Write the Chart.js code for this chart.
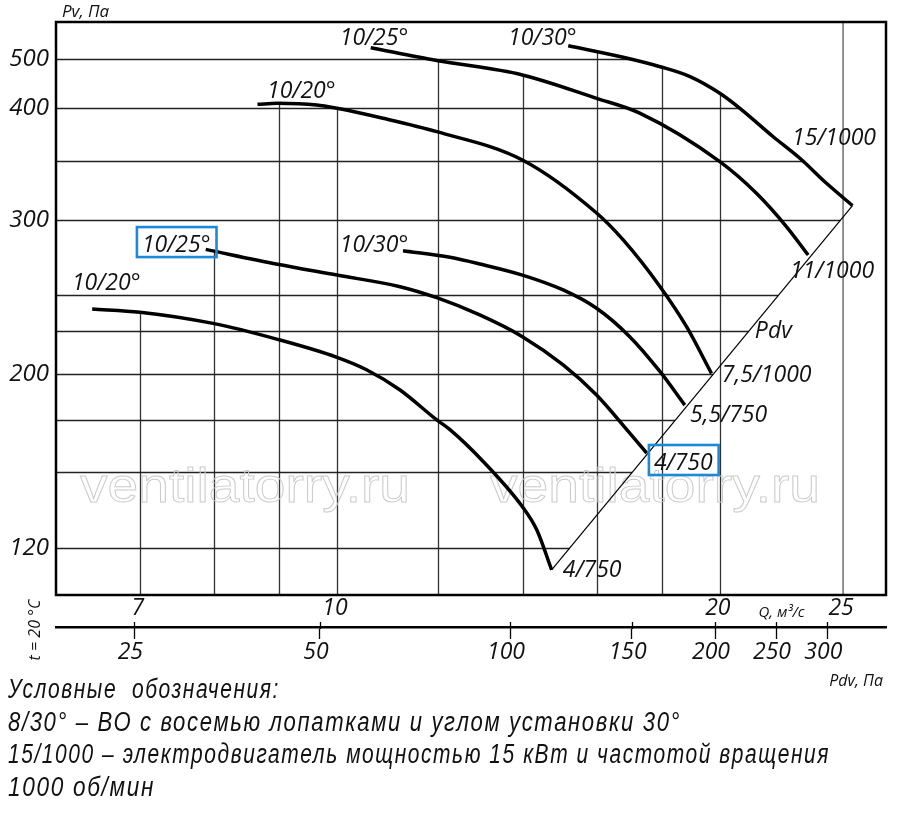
<!DOCTYPE html>
<html>
<head>
<meta charset="utf-8">
<script src="https://cdn.jsdelivr.net/npm/chart.js@4.4.1/dist/chart.umd.min.js"></script>
<style>
  html, body { margin: 0; padding: 0; background: #fff; }
  #wrap { position: relative; width: 900px; height: 814px; overflow: hidden; }
  #c { position: absolute; left: 0; top: 0; }
  #notes {
    position: absolute; left: 8px; top: 673px;
    font-family: "Liberation Sans", Arial, sans-serif;
    font-style: italic; font-size: 27px; line-height: 32.7px;
    letter-spacing: 2px; color: #111; white-space: nowrap;
  }
  #notes span { display: inline-block; transform-origin: 0 50%; }
</style>
</head>
<body>
<div id="wrap">
  <canvas id="c" width="900" height="814" style="width:900px;height:814px"></canvas>
  <div id="notes">
    <div><span>Условные&nbsp; обозначения:</span></div>
    <div><span>8/30° – ВО с восемью лопатками и углом установки 30°</span></div>
    <div><span>15/1000 – электродвигатель мощностью 15 кВт и частотой вращения</span></div>
    <div><span>1000 об/мин</span></div>
  </div>
</div>
<script>
// ================= DATA =================
// Q, m3/s axis
const qTickLabels = [7, 10, 20, 25];
const qGrid = [7, 8, 9, 10, 12, 14, 16, 18, 20];
const qGridFull = [25];
// Pv, Pa axis
const pvTickLabels = [120, 200, 300, 400, 500];
const pvGrid = [120, 150, 175, 200, 225, 250, 300, 350, 400, 500];
// Pdv, Pa axis
const pdvTicks = [25, 50, 100, 150, 200, 250, 300];

// Curves (Q in m3/s, Pv in Pa)
const curveNames = ['10/20° – 4/750', '10/25° – 4/750', '10/30° – 5,5/750',
                    '10/20° – 7,5/1000', '10/25° – 11/1000', '10/30° – 15/1000'];
const q1  = [6.42, 7.0, 7.99, 8.98, 10.0, 10.55, 11.21, 11.98, 12.27, 13.03, 13.99, 14.36, 14.75];
const pv1 = [239.9, 237.6, 229.9, 219.8, 209.4, 202.5, 191.1, 175.2, 170.2, 154.8, 135.4, 126.4, 112.4];
const q2  = [7.885, 8.98, 10.0, 11.21, 11.98, 12.95, 13.99, 15.06, 16.0, 16.99, 17.52];
const pv2 = [279.3, 269.4, 262.4, 255.1, 248.0, 235.7, 221.4, 205.1, 188.3, 168.4, 158.7];
const q3  = [11.27, 12.27, 12.95, 13.99, 15.06, 16.0, 16.99, 17.95, 18.77];
const pv3 = [278.4, 274.0, 269.6, 262.4, 253.1, 240.4, 221.4, 201.4, 182.9];
const q4  = [8.66, 8.98, 9.64, 10.0, 10.87, 11.98, 13.99, 16.0, 16.79, 17.95, 18.83, 19.70];
const pv4 = [407.3, 409.1, 406.0, 400.0, 390.0, 377.0, 350.9, 305.5, 285.8, 255.1, 227.7, 200.5];
const q5  = [10.63, 11.98, 13.99, 16.0, 17.30, 20.0, 21.37, 22.57, 23.47];
const pv5 = [525.4, 496.0, 464.8, 418.3, 395.1, 349.4, 321.7, 295.1, 275.5];
const q6  = [15.20, 16.79, 17.95, 18.95, 20.0, 20.74, 22.03, 23.12, 24.26, 25.43];
const pv6 = [530.2, 503.2, 482.3, 461.3, 428.0, 400.0, 372.2, 352.4, 330.2, 311.5];
// Pdv limit line
const qPdv  = [14.75, 25.43];
const pvPdv = [112.4, 311.5];

// Curve annotations (text, Q, Pv)
const labelTexts = ['10/25°', '10/30°', '10/20°', '15/1000', '11/1000', '10/25°', '10/30°',
                    '10/20°', 'Pdv', '7,5/1000', '5,5/750', '4/750', '4/750'];
const labelQ  = [10.05, 13.63, 8.81, 22.79, 22.71, 7.025, 10.05, 6.189, 21.31, 20.07, 18.95, 17.75, 15.05];
const labelPv = [531.9, 531.9, 419.0, 364.5, 260.6, 277.5, 277.5, 253.1, 220.6, 195.6, 174.1, 150.9, 110.1];
const labelBoxed = [false, false, false, false, false, true, false, false, false, false, false, true, false];

// ================= AXIS CALIBRATION (value -> fraction of axis) =================
const axisCalibration = {
  y:  [[120, 0.08255], [150, 0.21466], [175, 0.30489], [200, 0.38517], [225, 0.46126],
       [250, 0.52356], [300, 0.65445], [350, 0.75742], [400, 0.84939], [500, 0.93595]],
  x2: [[25, 0.09434], [50, 0.31807], [100, 0.54699], [150, 0.69361], [200, 0.79398],
       [250, 0.86747], [300, 0.92928]]
};
// target widths of the note lines (px)
const noteWidths = [272, 673, 822, 147];

// ================= CUSTOM SCALE =================
const BaseLog = Chart.LogarithmicScale || Chart.registry.getScale('logarithmic');
class AnchoredLogScale extends BaseLog {
  _anch() { return axisCalibration[this.id].map(p => [Math.log10(p[0]), p[1]]); }
  _seg(a, key, v) {
    let i = 0;
    if (v <= a[0][key]) i = 0;
    else if (v >= a[a.length - 1][key]) i = a.length - 2;
    else { while (i < a.length - 2 && v > a[i + 1][key]) i++; }
    return i;
  }
  _frac(v) {
    const a = this._anch(), L = Math.log10(v), i = this._seg(a, 0, L);
    const [l0, f0] = a[i], [l1, f1] = a[i + 1];
    return f0 + (L - l0) * (f1 - f0) / (l1 - l0);
  }
  _val(f) {
    const a = this._anch(), i = this._seg(a, 1, f);
    const [l0, f0] = a[i], [l1, f1] = a[i + 1];
    return Math.pow(10, l0 + (f - f0) * (l1 - l0) / (f1 - f0));
  }
  getPixelForValue(v) {
    if (v === null || v === undefined || isNaN(v) || v <= 0) return NaN;
    const f = this._frac(v);
    return this.isHorizontal() ? this.left + f * this.width : this.bottom - f * this.height;
  }
  getValueForPixel(p) {
    const f = this.isHorizontal() ? (p - this.left) / this.width : (this.bottom - p) / this.height;
    return this._val(f);
  }
}
AnchoredLogScale.id = 'anchoredLog';
AnchoredLogScale.defaults = BaseLog.defaults;
Chart.register(AnchoredLogScale);

// ================= STYLE =================
const ITAL = '"Open Sans", "Noto Sans", "DejaVu Sans", sans-serif';
const INK = '#111';

const curves = [[q1, pv1], [q2, pv2], [q3, pv3], [q4, pv4], [q5, pv5], [q6, pv6]];
const datasets = curves.map((c, k) => ({
  label: curveNames[k],
  data: c[0].map((q, i) => ({ x: q, y: c[1][i] })),
  borderColor: '#000', borderWidth: 3.5, pointRadius: 0, fill: false,
  cubicInterpolationMode: 'monotone', borderCapStyle: 'butt',
  xAxisID: 'x', yAxisID: 'y'
}));
datasets.push({
  label: 'Pdv',
  data: qPdv.map((q, i) => ({ x: q, y: pvPdv[i] })),
  borderColor: '#000', borderWidth: 1.2, pointRadius: 0, fill: false, tension: 0,
  xAxisID: 'x', yAxisID: 'y'
});
const CURVE_COUNT = curves.length;

function lineSeg(ctx, x1, y1, x2, y2) { ctx.beginPath(); ctx.moveTo(x1, y1); ctx.lineTo(x2, y2); ctx.stroke(); }

const gridPlugin = {
  id: 'clippedGrid',
  beforeDatasetsDraw(chart) {
    const { ctx, chartArea: a, scales: { x, y } } = chart;
    const metas = chart.data.datasets.map((d, i) => chart.getDatasetMeta(i).data);
    const curveMetas = metas.slice(0, CURVE_COUNT);
    ctx.save();
    // vertical lines: from bottom up to the topmost curve
    ctx.strokeStyle = '#333'; ctx.lineWidth = 1.3;
    qGrid.forEach(q => {
      const X = Math.round(x.getPixelForValue(q)) + 0.5;
      let top = Infinity;
      curveMetas.forEach(pts => {
        for (let i = 0; i < pts.length - 1; i++) {
          const p0 = pts[i], p1 = pts[i + 1];
          if (p0.x !== p1.x && (X - p0.x) * (X - p1.x) <= 0) {
            top = Math.min(top, p0.y + (p1.y - p0.y) * (X - p0.x) / (p1.x - p0.x));
          }
        }
      });
      if (!isFinite(top)) top = a.top;
      lineSeg(ctx, X, top, X, a.bottom);
    });
    ctx.strokeStyle = '#777'; ctx.lineWidth = 1.6;
    qGridFull.forEach(q => {
      const X = x.getPixelForValue(q);
      lineSeg(ctx, X, a.top, X, a.bottom);
    });
    // horizontal lines: from left up to the rightmost curve / Pdv line
    ctx.strokeStyle = '#222'; ctx.lineWidth = 1.3;
    pvGrid.forEach(pv => {
      const Y = Math.round(y.getPixelForValue(pv)) + 0.5;
      let right = -Infinity;
      metas.forEach(pts => {
        for (let i = 0; i < pts.length - 1; i++) {
          const p0 = pts[i], p1 = pts[i + 1];
          if (p0.y !== p1.y && (Y - p0.y) * (Y - p1.y) <= 0) {
            right = Math.max(right, p0.x + (p1.x - p0.x) * (Y - p0.y) / (p1.y - p0.y));
          }
        }
      });
      if (!isFinite(right)) right = a.right;
      lineSeg(ctx, a.left, Y, right, Y);
    });
    // watermark (outlined text, stretched to the width it has in the original)
    ctx.font = '48px "Liberation Sans", Arial, sans-serif';
    ctx.strokeStyle = '#cbcbcb'; ctx.lineWidth = 0.9;
    ctx.textAlign = 'center'; ctx.textBaseline = 'alphabetic';
    const wText = 'ventilatorry.ru';
    const sx = (a.width * 0.3976) / ctx.measureText(wText).width;
    const wy = a.top + a.height * 0.838;
    [0.2277, 0.7217].forEach(fx => {
      ctx.save();
      ctx.translate(a.left + a.width * fx, wy);
      ctx.scale(sx, 1);
      ctx.strokeText(wText, 0, 0);
      ctx.restore();
    });
    ctx.restore();
  },
  afterDatasetsDraw(chart) {
    const { ctx, chartArea: a, scales: { x, y, x2 } } = chart;
    ctx.save();
    // frame
    ctx.strokeStyle = '#000'; ctx.lineWidth = 2.5;
    ctx.strokeRect(a.left, a.top, a.width, a.height);
    // Pdv ticks also reach a little above the axis line
    ctx.lineWidth = 1.3;
    pdvTicks.forEach(v => {
      const X = Math.round(x2.getPixelForValue(v)) + 0.5;
      lineSeg(ctx, X, x2.top - 5, X, x2.top + 2);
    });
    // curve labels
    ctx.fillStyle = INK; ctx.textAlign = 'left'; ctx.textBaseline = 'alphabetic';
    ctx.font = 'italic 23px ' + ITAL;
    labelTexts.forEach((t, i) => {
      const px = x.getPixelForValue(labelQ[i]);
      const py = y.getPixelForValue(labelPv[i]);
      ctx.fillText(t, px, py);
      if (labelBoxed[i]) {
        const w = ctx.measureText(t).width;
        ctx.save();
        ctx.strokeStyle = '#1a8ad8'; ctx.lineWidth = 2.6;
        ctx.strokeRect(px - 5, py - 25, w + 11, 30);
        ctx.restore();
      }
    });
    // axis titles
    ctx.font = 'italic 17px ' + ITAL;
    ctx.fillText('Pv, Па', a.left + 6, a.top - 5);
    ctx.font = 'italic 15px ' + ITAL;
    ctx.fillText('Q, м³/с', x.getPixelForValue(21.45), x.top + 22);
    ctx.font = 'italic 16px ' + ITAL;
    ctx.textAlign = 'right';
    ctx.fillText('Pdv, Па', a.right - 3, x2.bottom + 15);
    // temperature note (rotated)
    ctx.save();
    ctx.translate(40, (x.top + x2.top) / 2 + 19);
    ctx.rotate(-Math.PI / 2);
    ctx.textAlign = 'center';
    ctx.font = 'italic 16px ' + ITAL;
    ctx.fillText('t = 20 °C', 0, 0);
    ctx.restore();
    ctx.restore();
  }
};

new Chart(document.getElementById('c'), {
  type: 'line',
  data: { datasets },
  options: {
    responsive: false, animation: false, devicePixelRatio: 1,
    layout: { padding: { top: 22, right: 14, bottom: 143, left: 0 } },
    plugins: { legend: { display: false }, tooltip: { enabled: false } },
    scales: {
      x: {
        type: 'logarithmic', position: 'bottom', weight: 0,
        min: 6.013, max: 27.02,
        afterBuildTicks: s => { s.ticks = qTickLabels.map(v => ({ value: v })); },
        afterFit: s => { s.height = 32; s.paddingLeft = 0; s.paddingRight = 0; },
        grid: { display: false, drawTicks: false },
        border: { display: false },
        ticks: { autoSkip: false, maxRotation: 0, minRotation: 0, padding: 0, labelOffset: -2,
                 color: INK, font: { family: ITAL, size: 23, style: 'italic' },
                 callback: v => String(v) }
      },
      x2: {
        type: 'anchoredLog', position: 'bottom', weight: 1,
        min: 18.66, max: 369.6,
        afterBuildTicks: s => { s.ticks = pdvTicks.map(v => ({ value: v })); },
        afterFit: s => { s.height = 44; s.paddingLeft = 0; s.paddingRight = 0; },
        grid: { display: true, drawOnChartArea: false, drawTicks: true, tickLength: 12,
                tickWidth: 1.3, tickColor: '#000' },
        border: { display: true, width: 2.5, color: '#000' },
        ticks: { autoSkip: false, maxRotation: 0, minRotation: 0, padding: 0, labelOffset: -4,
                 color: INK, font: { family: ITAL, size: 23, style: 'italic' },
                 callback: v => String(v) }
      },
      y: {
        type: 'anchoredLog', position: 'left',
        min: 104.4, max: 589.7,
        afterBuildTicks: s => { s.ticks = pvTickLabels.map(v => ({ value: v })); },
        afterFit: s => { s.width = 56; s.paddingTop = 0; s.paddingBottom = 0; },
        grid: { display: false, drawTicks: false },
        border: { display: false },
        ticks: { autoSkip: false, padding: 7, color: INK,
                 font: { family: ITAL, size: 24, style: 'italic' },
                 callback: v => String(v) }
      }
    }
  },
  plugins: [gridPlugin]
});

// fit the note lines to the widths of the original layout
document.querySelectorAll('#notes span').forEach((s, i) => {
  const w = s.getBoundingClientRect().width;
  if (w > 0) s.style.transform = 'scaleX(' + (noteWidths[i] / w).toFixed(4) + ')';
});
</script>
</body>
</html>
